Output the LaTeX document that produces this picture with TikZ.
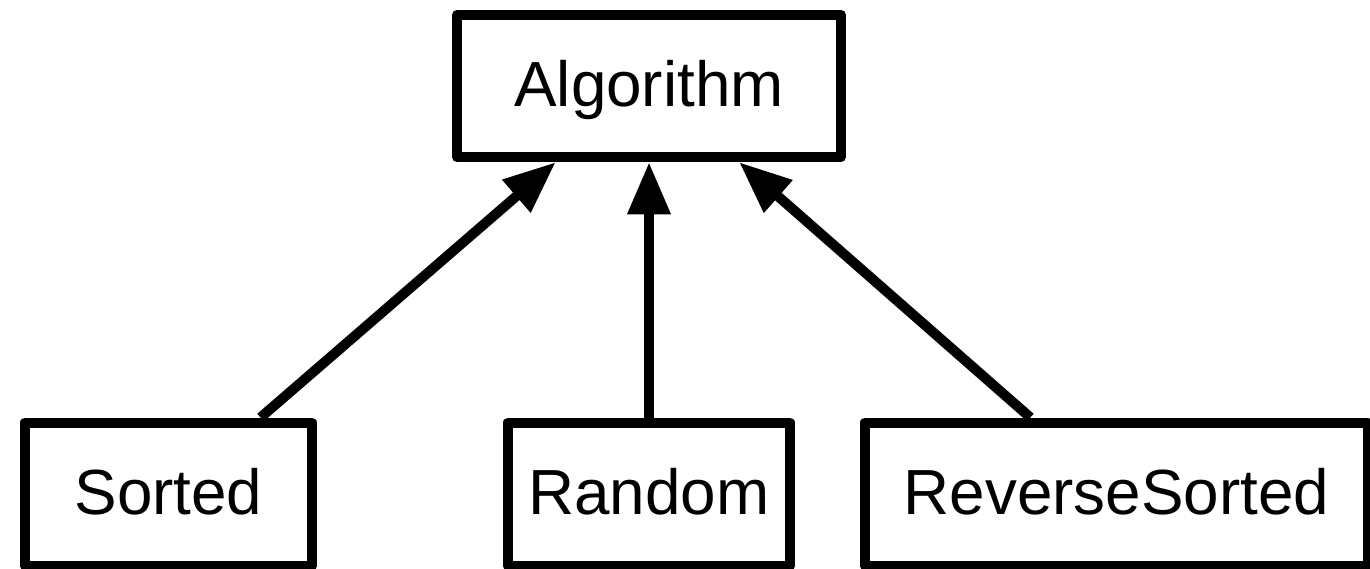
\documentclass[tikz,border=0pt]{standalone}
\usepackage{fontspec}
\setmainfont{Liberation Sans}
\usetikzlibrary{arrows.meta,calc}
\tikzset{
  klasse/.style={draw, line width=.2cm, line join=round, inner sep=0pt,
    minimum height=2.86cm, text height=.8cm, text depth=0pt,
    font=\fontsize{36.3}{40}\selectfont},
  erbe/.style={line width=.2cm, -{Triangle[length=1.04cm,width=.82cm]}}
}
\begin{document}
\begin{tikzpicture}
    \useasboundingbox (0, 0) rectangle (27.4, 11.36) ;
    \node[klasse, minimum width=7.68cm, minimum height=2.85cm] (algo) at (12.98, 9.64) {Algorithm} ;
    \node[klasse, minimum width=5.74cm] (sorted) at (3.37, 1.48) {Sorted} ;
    \node[klasse, minimum width=5.64cm] (random) at (12.98, 1.48) {Random} ;
    \node[klasse, minimum width=10.06cm] (reverse) at (22.33, 1.48) {ReverseSorted} ;
    \draw[erbe] ($(sorted.north west)!.81!(sorted.north east)$) -- ($(algo.south west)!.263!(algo.south east)$) ;
    \draw[erbe] (random.north) -- (algo.south) ;
    \draw[erbe] ($(reverse.north west)!.332!(reverse.north east)$) -- ($(algo.south west)!.729!(algo.south east)$) ;
  \end{tikzpicture}
\end{document}
